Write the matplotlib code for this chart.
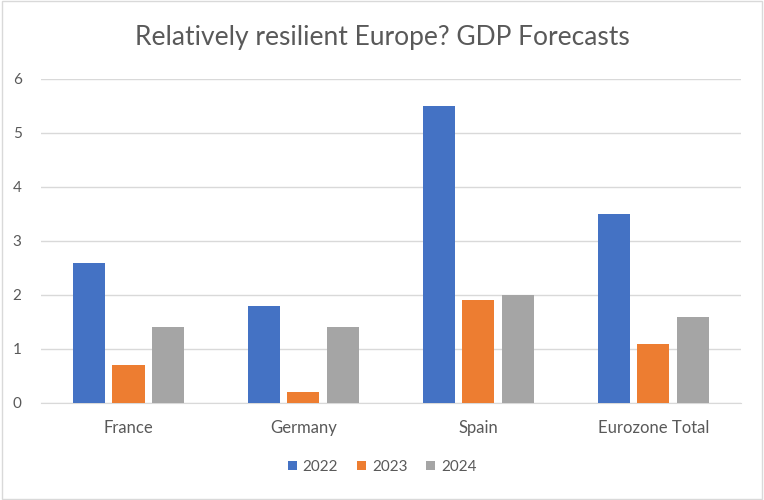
import matplotlib.pyplot as plt
import numpy as np

countries = ["France", "Germany", "Spain", "Eurozone Total"]
years = ["2022", "2023", "2024"]
gdp_2022 = [2.6, 1.8, 5.5, 3.5]
gdp_2023 = [0.7, 0.2, 1.9, 1.1]
gdp_2024 = [1.4, 1.4, 2.0, 1.6]
colors = ["#4472C4", "#ED7D31", "#A5A5A5"]

plt.rcParams["font.family"] = ["Lato", "DejaVu Sans"]
text_color = "#595959"

fig = plt.figure(figsize=(7.64, 5.0), dpi=100)
ax = fig.add_axes([0.0537, 0.194, 0.916, 0.648])

x = np.arange(len(countries))
bar_w = 0.183
step = 0.226
for i, (vals, year) in enumerate(zip([gdp_2022, gdp_2023, gdp_2024], years)):
    ax.bar(x + (i - 1) * step, vals, width=bar_w, color=colors[i], label=year, zorder=3)

ax.set_xlim(-0.5, len(countries) - 0.5)
ax.set_ylim(0, 6)
ax.set_yticks(range(0, 7))
ax.set_xticks(x)
ax.set_xticklabels(countries)
ax.grid(axis="y", color="#D9D9D9", linewidth=1, zorder=0)
for side in ["top", "right", "left"]:
    ax.spines[side].set_visible(False)
ax.spines["bottom"].set_color("#D9D9D9")
ax.tick_params(axis="both", length=0, colors=text_color, labelsize=11)
ax.tick_params(axis="x", pad=12, labelsize=12)
ax.tick_params(axis="y", pad=14)

fig.text(0.5, 0.925, "Relatively resilient Europe? GDP Forecasts", ha="center",
         va="center", fontsize=19, color=text_color)

fig.legend(loc="center", bbox_to_anchor=(0.5, 0.066), ncol=3, frameon=False,
           fontsize=11, handlelength=0.6, handleheight=0.6, columnspacing=1.2,
           handletextpad=0.4, labelcolor=text_color)

border = plt.Rectangle((0.002, 0.002), 0.996, 0.996, transform=fig.transFigure,
                       fill=False, edgecolor="#D9D9D9", linewidth=1)
fig.patches.append(border)

fig.savefig("out.png", dpi=100)
